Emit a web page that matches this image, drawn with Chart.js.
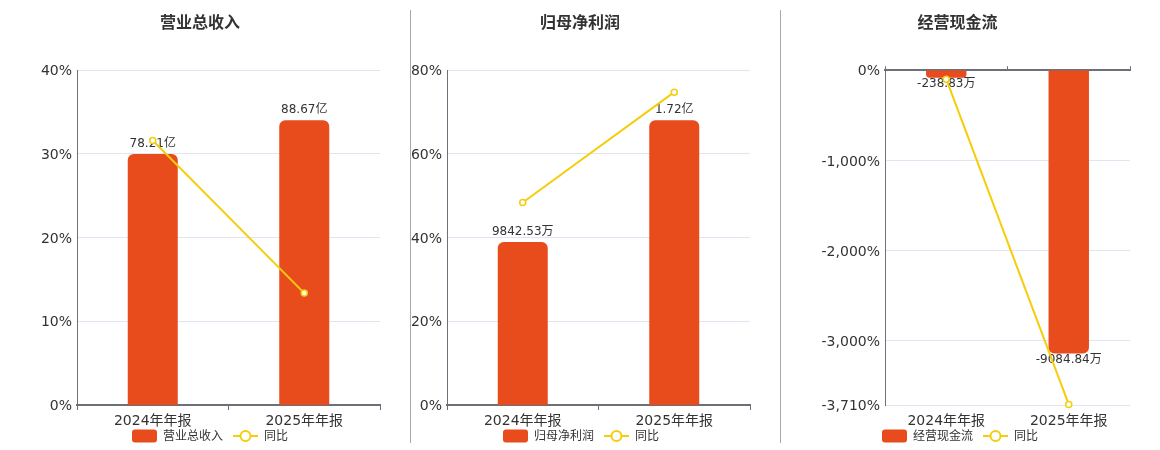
<!DOCTYPE html>
<html>
<head>
<meta charset="utf-8">
<script src="https://cdn.jsdelivr.net/npm/chart.js@4.4.1/dist/chart.umd.min.js"></script>
<style>
html,body{margin:0;padding:0;background:#fff;overflow:hidden;}
#wrap{position:relative;width:1160px;height:450px;}
.p{position:absolute;top:0;}
.sep{position:absolute;top:10px;height:433px;width:1px;background:#a8a8a8;}
</style>
</head>
<body>
<div id="wrap">
  <div class="p" style="left:20px"><canvas id="c1" width="380" height="452"></canvas></div>
  <div class="p" style="left:410px"><canvas id="c2" width="342" height="452"></canvas></div>
  <div class="p" style="left:785px"><canvas id="c3" width="350" height="452"></canvas></div>
  <div class="sep" style="left:410px"></div>
  <div class="sep" style="left:780px"></div>
</div>
<script>
// ---------- data ----------
const categories = ['2024年年报', '2025年年报'];

const revenueTitle = '营业总收入';
const revenueValues = [78.21, 88.67];        // 亿
const revenueYoY = [31.6, 13.37];             // %
const revenueTicks = [0, 10, 20, 30, 40];

const profitTitle = '归母净利润';
const profitValues = [9842.53, 17200];        // 万
const profitYoY = [48.4, 74.75];              // %
const profitTicks = [0, 20, 40, 60, 80];

const cashTitle = '经营现金流';
const cashValues = [-238.83, -9084.84];       // 万
const cashYoY = [-100, -3703.9];              // %
const cashTicks = [-3710, -3000, -2000, -1000, 0];

const yoyLabel = '同比';

// ---------- style ----------
const FONT = "'DejaVu Sans','Noto Sans CJK SC',sans-serif";
const BAR = '#E84B1C';
const LINE = '#F5CD0C';
const TXT = '#333333';
const AXIS = '#6E7079';
const GRID = '#E0E6F1';

function boxImg() {
  const c = document.createElement('canvas');
  c.width = 25; c.height = 14;
  const g = c.getContext('2d');
  g.fillStyle = BAR;
  g.beginPath();
  g.roundRect(0, 0.5, 25, 13, 3);
  g.fill();
  return c;
}
function lineImg() {
  const c = document.createElement('canvas');
  c.width = 25; c.height = 14;
  const g = c.getContext('2d');
  g.strokeStyle = LINE; g.lineWidth = 2;
  g.beginPath(); g.moveTo(0, 7); g.lineTo(25, 7); g.stroke();
  g.beginPath(); g.arc(12.5, 7, 5, 0, Math.PI * 2);
  g.fillStyle = '#fff'; g.fill(); g.stroke();
  return c;
}
const BOX_IMG = boxImg();
const LINE_IMG = lineImg();

function fmtYi(v) { return v.toFixed(2) + '亿'; }
function fmtWan(v) {
  return Math.abs(v) >= 10000 ? (v / 10000).toFixed(2) + '亿' : v.toFixed(2) + '万';
}
function fmtPct(v) { return Number(v).toLocaleString('en-US') + '%'; }

const LEGEND_Y = 436;

function makeChart(id, o) {
  const labelPlugin = {
    id: 'barLabels' + id,
    afterDatasetDraw(chart, args) {
      if (args.index !== 0) return;
      const ctx = chart.ctx;
      ctx.save();
      ctx.font = '12px ' + FONT;
      ctx.fillStyle = TXT;
      ctx.textAlign = 'center';
      ctx.textBaseline = 'middle';
      args.meta.data.forEach((el, i) => {
        const v = chart.data.datasets[0].data[i];
        const y = v >= 0 ? el.y - 10 : el.y + 6;
        ctx.fillText(o.fmt(v), el.x, y);
      });
      ctx.restore();
    }
  };

  const legendPlugin = {
    id: 'customLegend' + id,
    afterDraw(chart) {
      const ctx = chart.ctx;
      ctx.save();
      ctx.font = '12px ' + FONT;
      const items = chart.data.datasets.map((ds, i) => ({
        text: ds.label, img: i === 0 ? BOX_IMG : LINE_IMG, w: ctx.measureText(ds.label).width
      }));
      const gapBox = 6, gapItem = 10, bw = 25;
      let total = 0;
      items.forEach((it, i) => { total += bw + gapBox + it.w + (i ? gapItem : 0); });
      let x = chart.width / 2 - total / 2;
      ctx.fillStyle = TXT;
      ctx.textAlign = 'left';
      ctx.textBaseline = 'middle';
      items.forEach(it => {
        ctx.drawImage(it.img, x, LEGEND_Y - 7);
        x += bw + gapBox;
        ctx.fillText(it.text, x, LEGEND_Y + 0.5);
        x += it.w + gapItem;
      });
      ctx.restore();
    }
  };

  const scales = {
    x: {
      type: 'category',
      offset: true,
      grid: { display: true, drawOnChartArea: false, color: o.negative ? 'rgba(0,0,0,0)' : AXIS, tickLength: 5, offset: true, lineWidth: 1 },
      border: { display: !o.negative, color: AXIS, width: 2 },
      ticks: { color: TXT, font: { family: FONT, size: 14 }, padding: 3, maxRotation: 0, autoSkip: false },
      afterFit(s) { s.height = 30; s.paddingLeft = 0; s.paddingRight = 0; }
    },
    y: {
      position: 'left',
      min: o.ticks[0],
      max: o.ticks[o.ticks.length - 1],
      afterBuildTicks(s) { s.ticks = o.ticks.map(v => ({ value: v })); },
      grid: { color: c => (c.tick && c.tick.value === 0) ? 'rgba(0,0,0,0)' : GRID, drawTicks: false, lineWidth: 1 },
      border: { display: true, color: AXIS, width: 1 },
      ticks: { color: TXT, font: { family: FONT, size: 14 }, padding: 5, labelOffset: 1.5, callback: v => fmtPct(v) },
      afterFit(s) { s.width = o.yWidth; }
    },
    yb: { display: false, min: o.barMin, max: o.barMax }
  };
  if (o.negative) {
    scales.x2 = {
      type: 'category',
      position: 'top',
      offset: true,
      labels: categories,
      grid: { display: true, drawOnChartArea: false, color: AXIS, tickLength: 4, offset: true, lineWidth: 1 },
      border: { display: true, color: AXIS, width: 2 },
      ticks: { display: false },
      afterFit(s) { s.height = 0; s.paddingLeft = 0; s.paddingRight = 0; }
    };
  }

  return new Chart(document.getElementById(id), {
    data: {
      labels: categories,
      datasets: [
        {
          type: 'bar', label: o.title, data: o.bars, yAxisID: 'yb', xAxisID: 'x',
          backgroundColor: BAR, borderRadius: 6, borderSkipped: 'start',
          barPercentage: 0.33, categoryPercentage: 1, order: 2
        },
        {
          type: 'line', label: yoyLabel, data: o.yoy, yAxisID: 'y', xAxisID: 'x',
          borderColor: LINE, borderWidth: 2, tension: 0,
          pointRadius: 3, pointBorderWidth: 1.5, pointBackgroundColor: '#fff', pointBorderColor: LINE,
          order: 1, clip: false
        }
      ]
    },
    options: {
      responsive: false,
      animation: false,
      events: [],
      layout: { autoPadding: false, padding: { left: 0, right: o.padRight, top: 0, bottom: 17 } },
      plugins: {
        title: {
          display: true, text: o.title, color: TXT,
          font: { family: FONT, size: 16, weight: 'bold' },
          padding: { top: 14.5, bottom: 36.5 }
        },
        legend: { display: false },
        tooltip: { enabled: false }
      },
      scales
    },
    plugins: [labelPlugin, legendPlugin]
  });
}

makeChart('c1', {
  title: revenueTitle, bars: revenueValues, yoy: revenueYoY, ticks: revenueTicks,
  barMin: 0, barMax: 104.27, fmt: fmtYi, yWidth: 57, padRight: 20, negative: false
});
makeChart('c2', {
  title: profitTitle, bars: profitValues, yoy: profitYoY, ticks: profitTicks,
  barMin: 0, barMax: 20230, fmt: fmtWan, yWidth: 37, padRight: 2, negative: false
});
makeChart('c3', {
  title: cashTitle, bars: cashValues, yoy: cashYoY, ticks: cashTicks,
  barMin: -10733, barMax: 0, fmt: fmtWan, yWidth: 100, padRight: 5, negative: true
});
</script>
</body>
</html>
